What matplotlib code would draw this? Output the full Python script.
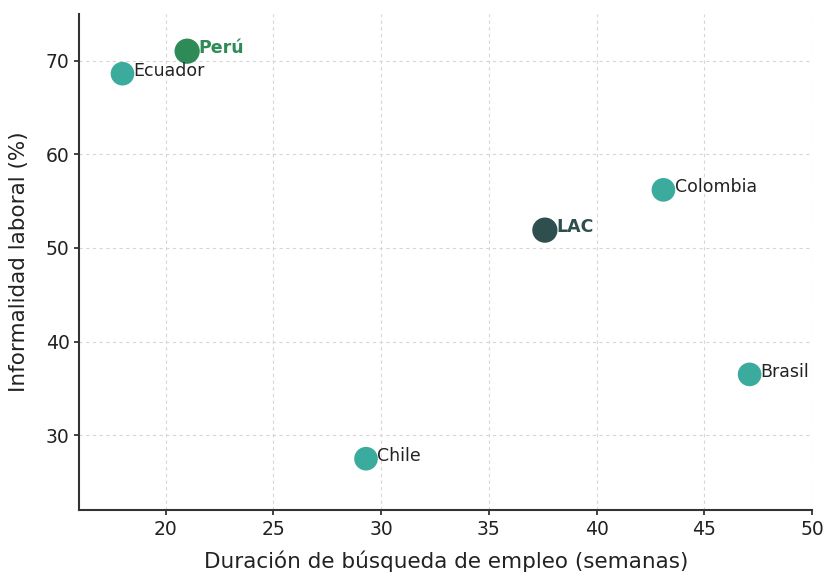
import matplotlib
matplotlib.use("Agg")
import matplotlib.pyplot as plt

paises = ["Perú", "Ecuador", "Colombia", "LAC", "Brasil", "Chile"]
duracion = [21.0, 18.0, 43.1, 37.6, 47.1, 29.3]
informalidad = [71.0, 68.6, 56.2, 51.9, 36.5, 27.5]

teal = "#3aab9d"
colores = {"Perú": "#2e8b57", "LAC": "#2f4f4f"}

fig, ax = plt.subplots(figsize=(8.27, 5.72), dpi=100)
fig.subplots_adjust(left=0.096, right=0.982, bottom=0.108, top=0.976)

for p, x, y in zip(paises, duracion, informalidad):
    destacado = p in colores
    c = colores.get(p, teal)
    ax.scatter(x, y, s=330 if destacado else 290, color=c, zorder=3, edgecolors="none")
    ax.annotate(p, (x, y), xytext=(8, 2), textcoords="offset points",
                va="center", ha="left", fontsize=12.5,
                color=c if destacado else "#222222",
                fontweight="bold" if destacado else "normal")

ax.set_xlim(16, 50)
ax.set_ylim(22, 75)
ax.set_xticks(range(20, 51, 5))
ax.set_yticks(range(30, 71, 10))
ax.grid(True, linestyle=(0, (3, 3)), color="#d6d6d6", linewidth=0.8)
ax.set_axisbelow(True)
for s in ["top", "right"]:
    ax.spines[s].set_visible(False)
for s in ["left", "bottom"]:
    ax.spines[s].set_linewidth(1.5)
    ax.spines[s].set_color("#333333")
ax.tick_params(labelsize=13.5, width=1.2, colors="#222222")
ax.set_xlabel("Duración de búsqueda de empleo (semanas)", fontsize=15.5, color="#222222", labelpad=8)
ax.set_ylabel("Informalidad laboral (%)", fontsize=15.5, color="#222222", labelpad=12)

plt.savefig("out.png", dpi=100)
